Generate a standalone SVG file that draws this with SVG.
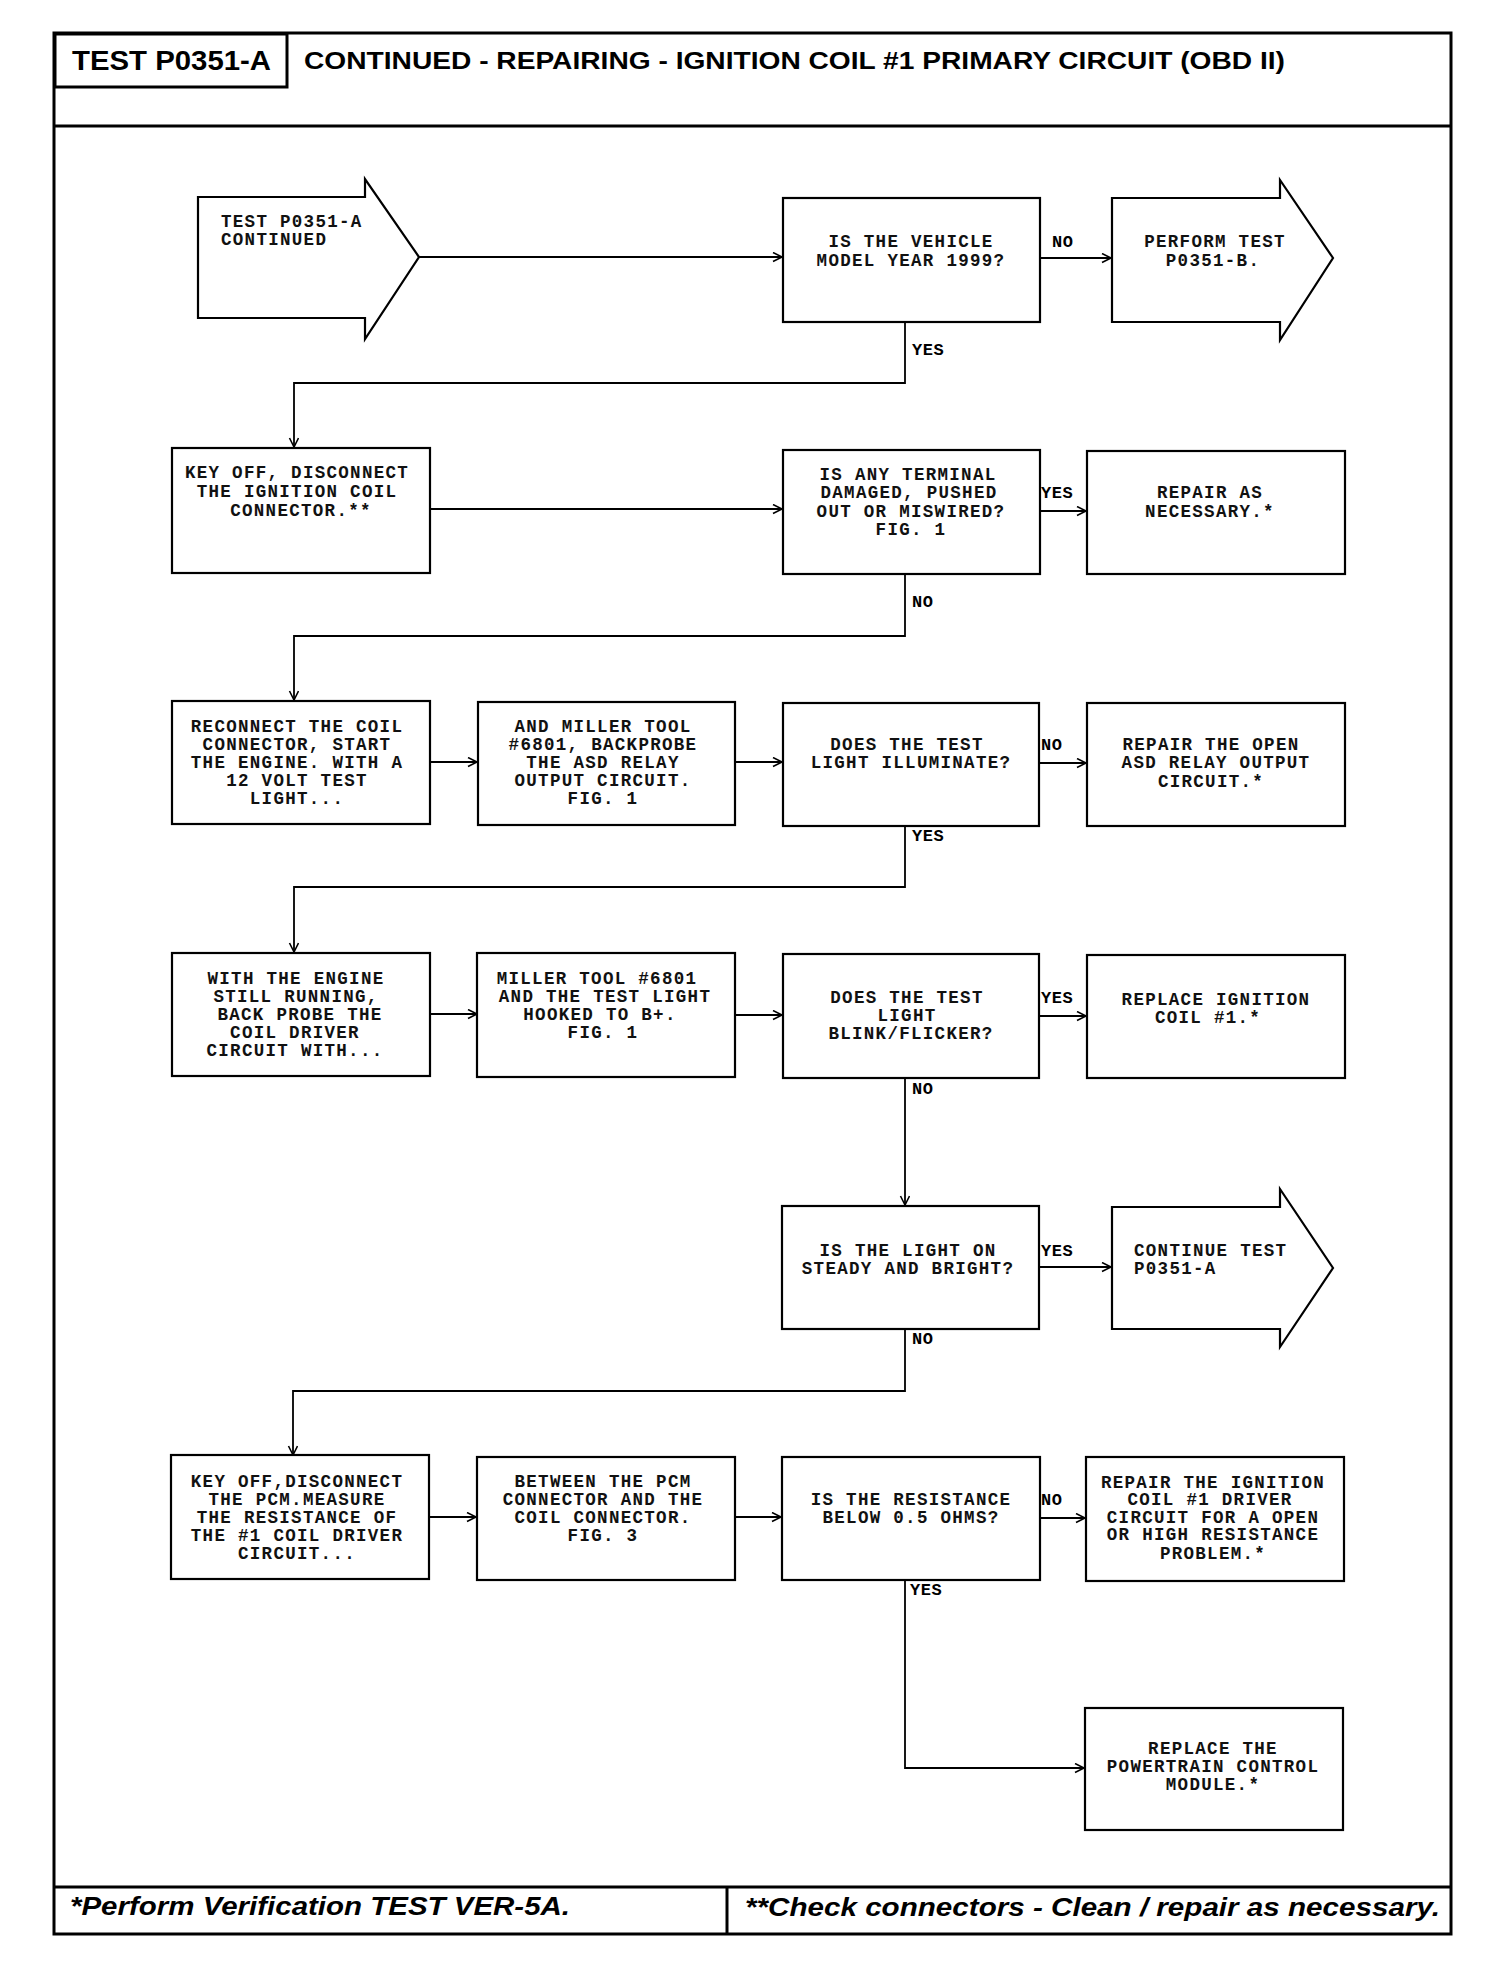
<svg xmlns="http://www.w3.org/2000/svg" width="1504" height="1974" viewBox="0 0 1504 1974">
<defs>
<marker id="ah" markerUnits="userSpaceOnUse" markerWidth="12" markerHeight="12" refX="10" refY="5" orient="auto">
<path d="M1,0.5 L10,5 L1,9.5" fill="none" stroke="#000" stroke-width="1.6"/>
</marker>
<style>
.box{fill:#fff;stroke:#000;stroke-width:2.2}
.t{font-family:"Liberation Mono","DejaVu Sans Mono",monospace;font-size:17.5px;font-weight:bold;letter-spacing:1.3px;fill:#111;text-anchor:middle}
.tl{text-anchor:start}
.lab{font-family:"Liberation Mono","DejaVu Sans Mono",monospace;font-size:17px;font-weight:bold;letter-spacing:0.6px;fill:#000}
.c{fill:none;stroke:#000;stroke-width:1.8}
.frame{fill:none;stroke:#000;stroke-width:3}
.hd{font-family:"Liberation Sans",Arial,sans-serif;font-weight:bold;fill:#000}
</style>
</defs>
<rect width="1504" height="1974" fill="#fff"/>

<g id="frame">
<rect class="frame" x="54" y="33" width="1397" height="1901"/>
<rect class="frame" x="55" y="34" width="232" height="53"/>
<line class="frame" x1="54" y1="126" x2="1451" y2="126"/>
<line class="frame" x1="54" y1="1887" x2="1451" y2="1887"/>
<line class="frame" x1="727" y1="1887" x2="727" y2="1934"/>
<text class="hd" x="72" y="70" font-size="27" textLength="199" lengthAdjust="spacingAndGlyphs">TEST P0351-A</text>
<text class="hd" x="304" y="69" font-size="24" textLength="981" lengthAdjust="spacingAndGlyphs">CONTINUED - REPAIRING - IGNITION COIL #1 PRIMARY CIRCUIT (OBD II)</text>
<text class="hd" x="70" y="1915" font-size="25" font-style="italic" textLength="500" lengthAdjust="spacingAndGlyphs">*Perform Verification TEST VER-5A.</text>
<text class="hd" x="745" y="1916" font-size="25" font-style="italic" textLength="695" lengthAdjust="spacingAndGlyphs">**Check connectors - Clean / repair as necessary.</text>
</g>

<g id="connectors">
<line class="c" x1="419" y1="257" x2="782" y2="257" marker-end="url(#ah)"/>
<line class="c" x1="1040" y1="258" x2="1111" y2="258" marker-end="url(#ah)"/>
<polyline class="c" points="905,322 905,383 294,383 294,447" marker-end="url(#ah)"/>
<line class="c" x1="430" y1="509" x2="782" y2="509" marker-end="url(#ah)"/>
<line class="c" x1="1040" y1="511" x2="1086" y2="511" marker-end="url(#ah)"/>
<polyline class="c" points="905,574 905,636 294,636 294,700" marker-end="url(#ah)"/>
<line class="c" x1="430" y1="762" x2="477" y2="762" marker-end="url(#ah)"/>
<line class="c" x1="735" y1="762" x2="782" y2="762" marker-end="url(#ah)"/>
<line class="c" x1="1039" y1="763" x2="1086" y2="763" marker-end="url(#ah)"/>
<polyline class="c" points="905,826 905,887 294,887 294,952" marker-end="url(#ah)"/>
<line class="c" x1="430" y1="1014" x2="477" y2="1014" marker-end="url(#ah)"/>
<line class="c" x1="735" y1="1015" x2="782" y2="1015" marker-end="url(#ah)"/>
<line class="c" x1="1039" y1="1016" x2="1086" y2="1016" marker-end="url(#ah)"/>
<line class="c" x1="905" y1="1078" x2="905" y2="1205" marker-end="url(#ah)"/>
<line class="c" x1="1039" y1="1267" x2="1111" y2="1267" marker-end="url(#ah)"/>
<polyline class="c" points="905,1329 905,1391 293,1391 293,1455" marker-end="url(#ah)"/>
<line class="c" x1="429" y1="1517" x2="476" y2="1517" marker-end="url(#ah)"/>
<line class="c" x1="735" y1="1517" x2="781" y2="1517" marker-end="url(#ah)"/>
<line class="c" x1="1040" y1="1518" x2="1085" y2="1518" marker-end="url(#ah)"/>
<polyline class="c" points="905,1580 905,1768 1084,1768" marker-end="url(#ah)"/>
<text class="lab" x="1052" y="247">NO</text>
<text class="lab" x="912" y="355">YES</text>
<text class="lab" x="1041" y="498">YES</text>
<text class="lab" x="912" y="607">NO</text>
<text class="lab" x="1041" y="750">NO</text>
<text class="lab" x="912" y="841">YES</text>
<text class="lab" x="1041" y="1003">YES</text>
<text class="lab" x="912" y="1094">NO</text>
<text class="lab" x="1041" y="1256">YES</text>
<text class="lab" x="912" y="1344">NO</text>
<text class="lab" x="1041" y="1505">NO</text>
<text class="lab" x="910" y="1595">YES</text>
</g>

<g id="start">
<path class="box" d="M198,197 L365,197 L365,179 L419,257 L365,339 L365,318 L198,318 Z"/>
<text class="t tl" x="221" y="227">TEST P0351-A</text>
<text class="t tl" x="221" y="245">CONTINUED</text>
</g>

<g id="q-year">
<rect class="box" x="783" y="198" width="257" height="124"/>
<text class="t" x="911" y="247">IS THE VEHICLE</text>
<text class="t" x="911" y="266">MODEL YEAR 1999?</text>
</g>

<g id="perform-b">
<path class="box" d="M1112,198 L1280,198 L1280,180 L1333,258 L1280,340 L1280,322 L1112,322 Z"/>
<text class="t" x="1215" y="247">PERFORM TEST</text>
<text class="t" x="1213" y="266">P0351-B.</text>
</g>

<g id="key-off-1">
<rect class="box" x="172" y="448" width="258" height="125"/>
<text class="t" x="297" y="478">KEY OFF, DISCONNECT</text>
<text class="t" x="297" y="497">THE IGNITION COIL</text>
<text class="t" x="301" y="516">CONNECTOR.**</text>
</g>

<g id="q-terminal">
<rect class="box" x="783" y="450" width="257" height="124"/>
<text class="t" x="908" y="480">IS ANY TERMINAL</text>
<text class="t" x="909" y="498">DAMAGED, PUSHED</text>
<text class="t" x="911" y="517">OUT OR MISWIRED?</text>
<text class="t" x="911" y="535">FIG. 1</text>
</g>

<g id="repair-1">
<rect class="box" x="1087" y="451" width="258" height="123"/>
<text class="t" x="1210" y="498">REPAIR AS</text>
<text class="t" x="1210" y="517">NECESSARY.*</text>
</g>

<g id="reconnect">
<rect class="box" x="172" y="701" width="258" height="123"/>
<text class="t" x="297" y="732">RECONNECT THE COIL</text>
<text class="t" x="297" y="750">CONNECTOR, START</text>
<text class="t" x="297" y="768">THE ENGINE. WITH A</text>
<text class="t" x="297" y="786">12 VOLT TEST</text>
<text class="t" x="297" y="804">LIGHT...</text>
</g>

<g id="miller-1">
<rect class="box" x="478" y="702" width="257" height="123"/>
<text class="t" x="603" y="732">AND MILLER TOOL</text>
<text class="t" x="603" y="750">#6801, BACKPROBE</text>
<text class="t" x="603" y="768">THE ASD RELAY</text>
<text class="t" x="603" y="786">OUTPUT CIRCUIT.</text>
<text class="t" x="603" y="804">FIG. 1</text>
</g>

<g id="q-illuminate">
<rect class="box" x="783" y="703" width="256" height="123"/>
<text class="t" x="907" y="750">DOES THE TEST</text>
<text class="t" x="911" y="768">LIGHT ILLUMINATE?</text>
</g>

<g id="repair-asd">
<rect class="box" x="1087" y="703" width="258" height="123"/>
<text class="t" x="1211" y="750">REPAIR THE OPEN</text>
<text class="t" x="1216" y="768">ASD RELAY OUTPUT</text>
<text class="t" x="1211" y="787">CIRCUIT.*</text>
</g>

<g id="with-engine">
<rect class="box" x="172" y="953" width="258" height="123"/>
<text class="t" x="296" y="984">WITH THE ENGINE</text>
<text class="t" x="296" y="1002">STILL RUNNING,</text>
<text class="t" x="300" y="1020">BACK PROBE THE</text>
<text class="t" x="295" y="1038">COIL DRIVER</text>
<text class="t" x="295" y="1056">CIRCUIT WITH...</text>
</g>

<g id="miller-2">
<rect class="box" x="477" y="953" width="258" height="124"/>
<text class="t" x="597" y="984">MILLER TOOL #6801</text>
<text class="t" x="605" y="1002">AND THE TEST LIGHT</text>
<text class="t" x="600" y="1020">HOOKED TO B+.</text>
<text class="t" x="603" y="1038">FIG. 1</text>
</g>

<g id="q-blink">
<rect class="box" x="783" y="954" width="256" height="124"/>
<text class="t" x="907" y="1003">DOES THE TEST</text>
<text class="t" x="907" y="1021">LIGHT</text>
<text class="t" x="911" y="1039">BLINK/FLICKER?</text>
</g>

<g id="replace-coil">
<rect class="box" x="1087" y="955" width="258" height="123"/>
<text class="t" x="1216" y="1005">REPLACE IGNITION</text>
<text class="t" x="1208" y="1023">COIL #1.*</text>
</g>

<g id="q-steady">
<rect class="box" x="782" y="1206" width="257" height="123"/>
<text class="t" x="908" y="1256">IS THE LIGHT ON</text>
<text class="t" x="908" y="1274">STEADY AND BRIGHT?</text>
</g>

<g id="continue-a">
<path class="box" d="M1112,1207 L1280,1207 L1280,1189 L1333,1268 L1280,1347 L1280,1329 L1112,1329 Z"/>
<text class="t tl" x="1134" y="1256">CONTINUE TEST</text>
<text class="t tl" x="1134" y="1274">P0351-A</text>
</g>

<g id="key-off-2">
<rect class="box" x="171" y="1455" width="258" height="124"/>
<text class="t" x="297" y="1487">KEY OFF,DISCONNECT</text>
<text class="t" x="297" y="1505">THE PCM.MEASURE</text>
<text class="t" x="297" y="1523">THE RESISTANCE OF</text>
<text class="t" x="297" y="1541">THE #1 COIL DRIVER</text>
<text class="t" x="297" y="1559">CIRCUIT...</text>
</g>

<g id="between">
<rect class="box" x="477" y="1457" width="258" height="123"/>
<text class="t" x="603" y="1487">BETWEEN THE PCM</text>
<text class="t" x="603" y="1505">CONNECTOR AND THE</text>
<text class="t" x="603" y="1523">COIL CONNECTOR.</text>
<text class="t" x="603" y="1541">FIG. 3</text>
</g>

<g id="q-resistance">
<rect class="box" x="782" y="1457" width="258" height="123"/>
<text class="t" x="911" y="1505">IS THE RESISTANCE</text>
<text class="t" x="911" y="1523">BELOW 0.5 OHMS?</text>
</g>

<g id="repair-driver">
<rect class="box" x="1086" y="1457" width="258" height="124"/>
<text class="t" x="1213" y="1488">REPAIR THE IGNITION</text>
<text class="t" x="1210" y="1505">COIL #1 DRIVER</text>
<text class="t" x="1213" y="1523">CIRCUIT FOR A OPEN</text>
<text class="t" x="1213" y="1540">OR HIGH RESISTANCE</text>
<text class="t" x="1213" y="1559">PROBLEM.*</text>
</g>

<g id="replace-pcm">
<rect class="box" x="1085" y="1708" width="258" height="122"/>
<text class="t" x="1213" y="1754">REPLACE THE</text>
<text class="t" x="1213" y="1772">POWERTRAIN CONTROL</text>
<text class="t" x="1213" y="1790">MODULE.*</text>
</g>
</svg>
